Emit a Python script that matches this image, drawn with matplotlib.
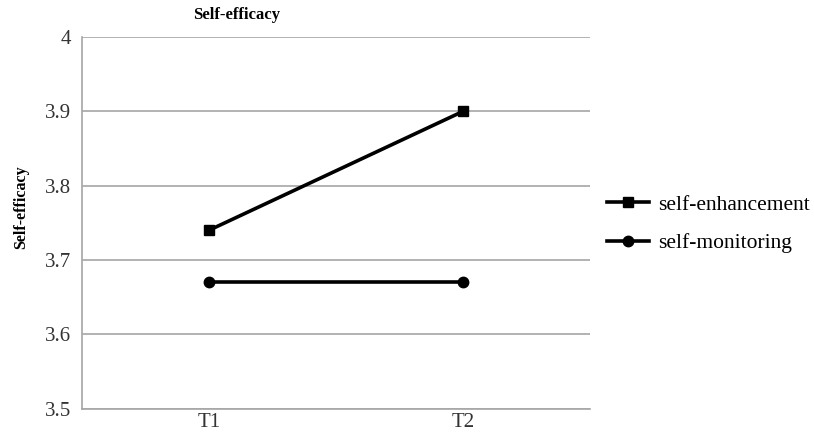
import numpy as np
import matplotlib
matplotlib.use('agg')
import matplotlib.pyplot as plt

plt.rcParams['font.family'] = 'Liberation Serif'

times = ['T1', 'T2']
enhancement = [3.74, 3.90]
monitoring = [3.67, 3.67]
yticks = [3.5, 3.6, 3.7, 3.8, 3.9, 4.0]
ylabels = ['3.5', '3.6', '3.7', '3.8', '3.9', '4']

fig = plt.figure(figsize=(8.14, 4.36), dpi=100)
ax = fig.add_axes([0.1007, 0.0628, 0.6241, 0.8522])

x = np.arange(len(times))
ax.plot(x, enhancement, color='black', lw=2.6, marker='s', ms=7, label='self-enhancement')
ax.plot(x, monitoring, color='black', lw=2.6, marker='o', ms=7.5, label='self-monitoring')

ax.set_xlim(-0.5, 1.5)
ax.set_ylim(3.5, 4.0)
ax.set_xticks(x)
ax.set_xticklabels(times)
ax.set_yticks(yticks)
ax.set_yticklabels(ylabels)
ax.tick_params(length=0, labelsize=15, colors='#333333', pad=8)
ax.tick_params(axis='x', pad=3)
ax.grid(axis='y', color='#a6a6a6', lw=1.2)
ax.set_axisbelow(True)
for s in ['top', 'right']:
    ax.spines[s].set_visible(False)
for s in ['left', 'bottom']:
    ax.spines[s].set_color('#a6a6a6')
    ax.spines[s].set_linewidth(1.2)

fig.text(237 / 814, 1 - 15 / 436, 'Self-efficacy', ha='center', va='center',
         fontsize=12, fontweight='bold')
fig.text(21 / 814, 1 - 207 / 436, 'Self-efficacy', ha='center', va='center',
         rotation=90, fontsize=11.5, fontweight='bold')

ax.legend(loc='center left', bbox_to_anchor=(0.995, 0.497), frameon=False,
          fontsize=15.5, handlelength=1.95, handletextpad=0.45, labelspacing=0.85)

fig.savefig('out.png', dpi=100)
